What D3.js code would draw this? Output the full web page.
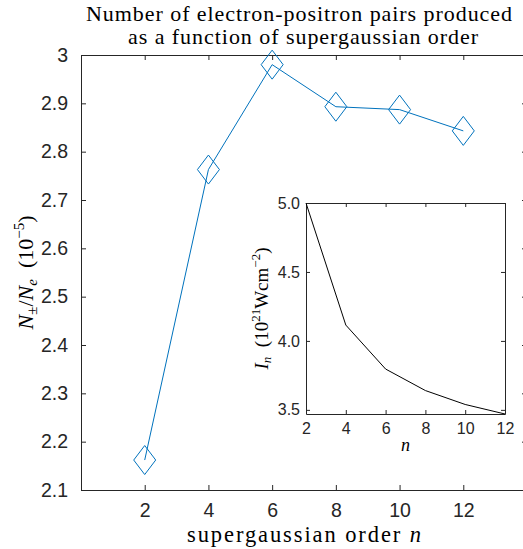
<!DOCTYPE html>
<html>
<head>
<meta charset="utf-8">
<script src="https://cdn.jsdelivr.net/npm/d3@7"></script>
<style>
  html, body { margin: 0; padding: 0; background: #fff; }
  svg { display: block; }
</style>
</head>
<body>
<svg id="chart" width="523" height="549"></svg>
<script>
// ---------------- data ----------------
const orders = [2, 4, 6, 8, 10, 12];
const pairs = [2.162, 2.763, 2.980, 2.893, 2.887, 2.843];       // N±/Ne (1e-5)
const intensity = [5.0, 4.115, 3.796, 3.64, 3.539, 3.47];         // I_n (1e21 W cm^-2)
const mainXTicks = [2, 4, 6, 8, 10, 12];
const mainYTicks = [2.1, 2.2, 2.3, 2.4, 2.5, 2.6, 2.7, 2.8, 2.9, 3];
const insetXTicks = [2, 4, 6, 8, 10, 12];
const insetYTicks = [3.5, 4.0, 4.5, 5.0];
const titleLines = ["Number of electron-positron pairs produced", "as a function of supergaussian order"];

// ---------------- layout ----------------
const svg = d3.select("#chart");
const axisColor = "#262626";
const blue = "#0072BD";
const sans = "'Liberation Sans', Arial, Helvetica, sans-serif";
const serif = "'Liberation Serif', 'Times New Roman', serif";

const M = { left: 81, right: 527, top: 55, bottom: 490 };
const x = d3.scaleLinear().domain([0, 14]).range([M.left, M.right]);
const y = d3.scaleLinear().domain([2.1, 3]).range([M.bottom, M.top]);

const tickLen = 5;

function drawBox(g, l, r, t, b) {
  g.append("rect").attr("x", l).attr("y", t).attr("width", r - l).attr("height", b - t)
    .attr("fill", "#fff").attr("stroke", "none");
}

// main axes background
const main = svg.append("g");
drawBox(main, M.left, M.right, M.top, M.bottom);

// axes via d3 axis generators (inward ticks)
const xAxisB = d3.axisBottom(x).tickValues(mainXTicks).tickSizeInner(-tickLen).tickSizeOuter(0).tickPadding(13);
const xAxisT = d3.axisTop(x).tickValues(mainXTicks).tickSizeInner(-tickLen).tickSizeOuter(0).tickFormat("");
const yAxisL = d3.axisLeft(y).tickValues(mainYTicks).tickSizeInner(-tickLen).tickSizeOuter(0).tickPadding(13).tickFormat(d3.format("~g"));
const yAxisR = d3.axisRight(y).tickValues(mainYTicks).tickSizeInner(-tickLen).tickSizeOuter(0).tickFormat("");

function styleAxis(g, fs) {
  g.selectAll("path.domain").attr("stroke", axisColor).attr("stroke-width", 1);
  g.selectAll(".tick line").attr("stroke", axisColor).attr("stroke-width", 1);
  g.selectAll(".tick text").attr("fill", axisColor).attr("font-family", sans).attr("font-size", fs);
  g.attr("font-family", null).attr("font-size", null);
}

styleAxis(main.append("g").attr("transform", `translate(0,${M.bottom})`).call(xAxisB), 19.5);
styleAxis(main.append("g").attr("transform", `translate(0,${M.top})`).call(xAxisT), 19.5);
styleAxis(main.append("g").attr("transform", `translate(${M.left},0)`).call(yAxisL), 19.5);
styleAxis(main.append("g").attr("transform", `translate(${M.right},0)`).call(yAxisR), 19.5);

// main series
const pts = orders.map((o, i) => [o, pairs[i]]);
main.append("path")
  .attr("d", d3.line().x(d => x(d[0])).y(d => y(d[1]))(pts))
  .attr("fill", "none").attr("stroke", blue).attr("stroke-width", 1);

const hw = 11, hh = 14.5;
main.selectAll("path.marker").data(pts).enter().append("path")
  .attr("class", "marker")
  .attr("d", d => {
    const cx = x(d[0]), cy = y(d[1]);
    return `M${cx},${cy - hh}L${cx + hw},${cy}L${cx},${cy + hh}L${cx - hw},${cy}Z`;
  })
  .attr("fill", "none").attr("stroke", blue).attr("stroke-width", 1);

// title
const cxTitle = 299;
svg.append("text").attr("text-anchor", "middle")
  .attr("x", cxTitle).attr("y", 21)
  .attr("font-family", serif).attr("font-size", 22).attr("fill", "#000")
  .attr("textLength", 426).attr("lengthAdjust", "spacing")
  .text(titleLines[0]);
svg.append("text").attr("text-anchor", "middle")
  .attr("x", 303).attr("y", 44)
  .attr("font-family", serif).attr("font-size", 22).attr("fill", "#000")
  .attr("textLength", 350).attr("lengthAdjust", "spacing")
  .text(titleLines[1]);

// x label
const xl = svg.append("text").attr("text-anchor", "middle")
  .attr("x", 304).attr("y", 542)
  .attr("font-family", serif).attr("font-size", 22.5).attr("fill", "#000")
  .attr("textLength", 234).attr("lengthAdjust", "spacing");
xl.append("tspan").text("supergaussian order ");
xl.append("tspan").attr("font-style", "italic").text("n");

// y label
const yl = svg.append("text").attr("text-anchor", "middle")
  .attr("transform", `translate(33,${(M.top + M.bottom) / 2}) rotate(-90)`)
  .attr("font-family", serif).attr("font-size", 22).attr("fill", "#000");
yl.append("tspan").attr("font-style", "italic").text("N");
yl.append("tspan").attr("font-size", 15).attr("dy", 4).text("±");
yl.append("tspan").attr("dy", -4).text("/");
yl.append("tspan").attr("font-style", "italic").text("N");
yl.append("tspan").attr("font-style", "italic").attr("font-size", 15).attr("dy", 4).text("e");
yl.append("tspan").attr("dy", -4).text("\u00a0\u00a0(10");
yl.append("tspan").attr("font-size", 15).attr("dy", -9).text("−5");
yl.append("tspan").attr("dy", 9).text(")");

// ---------------- inset ----------------
const I = { left: 306, right: 505, top: 203, bottom: 414 };
const xi = d3.scaleLinear().domain([2, 12]).range([I.left, I.right]);
const yi = d3.scaleLinear().domain([3.47, 5.0]).range([I.bottom, I.top]);
const inset = svg.append("g");
drawBox(inset, I.left, I.right, I.top, I.bottom);
const iTick = 4;
styleAxis(inset.append("g").attr("transform", `translate(0,${I.bottom})`)
  .call(d3.axisBottom(xi).tickValues(insetXTicks).tickSizeInner(-iTick).tickSizeOuter(0).tickPadding(9)), 16);
styleAxis(inset.append("g").attr("transform", `translate(0,${I.top})`)
  .call(d3.axisTop(xi).tickValues(insetXTicks).tickSizeInner(-iTick).tickSizeOuter(0).tickFormat("")), 16);
styleAxis(inset.append("g").attr("transform", `translate(${I.left},0)`)
  .call(d3.axisLeft(yi).tickValues(insetYTicks).tickSizeInner(-iTick).tickSizeOuter(0).tickPadding(6).tickFormat(d3.format(".1f"))), 16);
styleAxis(inset.append("g").attr("transform", `translate(${I.right},0)`)
  .call(d3.axisRight(yi).tickValues(insetYTicks).tickSizeInner(-iTick).tickSizeOuter(0).tickFormat("")), 16);

const ipts = orders.map((o, i) => [o, intensity[i]]);
inset.append("path")
  .attr("d", d3.line().x(d => xi(d[0])).y(d => yi(d[1]))(ipts))
  .attr("fill", "none").attr("stroke", "#000").attr("stroke-width", 1);

// inset labels
svg.append("text").attr("text-anchor", "middle")
  .attr("x", (I.left + I.right) / 2).attr("y", 451)
  .attr("font-family", serif).attr("font-style", "italic").attr("font-size", 18).attr("fill", "#000")
  .text("n");

const il = svg.append("text").attr("text-anchor", "middle")
  .attr("transform", `translate(268,${(I.top + I.bottom) / 2}) rotate(-90)`)
  .attr("font-family", serif).attr("font-size", 19).attr("fill", "#000");
il.append("tspan").attr("font-style", "italic").text("I");
il.append("tspan").attr("font-style", "italic").attr("font-size", 13).attr("dy", 3).text("n");
il.append("tspan").attr("dy", -3).text("\u00a0\u00a0(10");
il.append("tspan").attr("font-size", 13).attr("dy", -8).text("21");
il.append("tspan").attr("dy", 8).text("Wcm");
il.append("tspan").attr("font-size", 13).attr("dy", -8).text("−2");
il.append("tspan").attr("dy", 8).text(")");
</script>
</body>
</html>
